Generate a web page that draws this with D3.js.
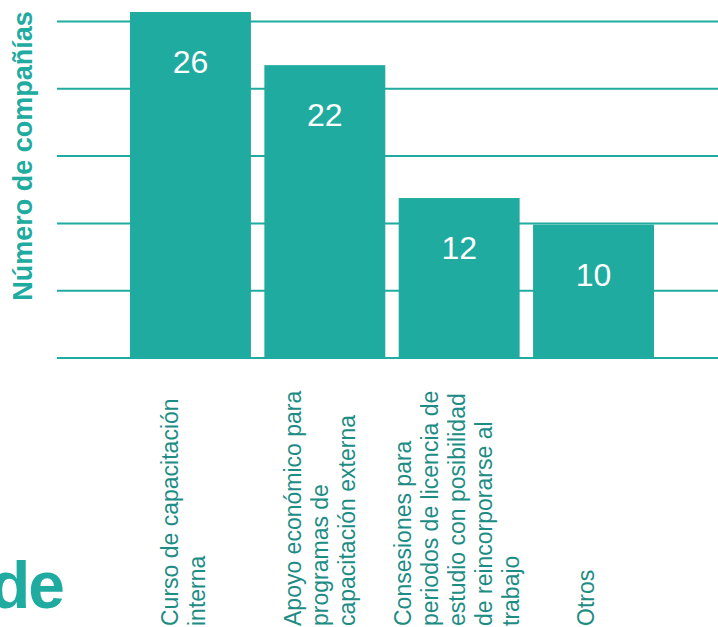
<!DOCTYPE html>
<html>
<head>
<meta charset="utf-8">
<script src="https://cdn.jsdelivr.net/npm/d3@7"></script>
<style>
  body { margin: 0; background: #fff; }
  svg { display: block; font-family: "Liberation Sans", Arial, sans-serif; }
</style>
</head>
<body>
<div id="chart"></div>
<script>
// data
const categories = ["curso", "apoyo", "consesiones", "otros"];
const values = [26, 22, 12, 10];
const categoryLines = [
    ["Curso de capacitación", "interna"],
    ["Apoyo económico para", "programas de", "capacitación externa"],
    ["Consesiones para", "periodos de licencia de", "estudio con posibilidad", "de reincorporarse al", "trabajo"],
    ["Otros"]
];
const gridTicks = [0, 5, 10, 15, 20, 25];
const yTitle = "Número de compañías";

const width = 718, height = 627;
const teal = "#20aba0", labelTeal = "#1d8c85";

const svg = d3.select("#chart")
    .append("svg")
    .attr("width", width)
    .attr("height", height);

const x = d3.scaleBand()
    .domain(categories)
    .range([123.3, 660.7])
    .paddingInner(0.1)
    .paddingOuter(0.05);

// bars and gridlines don't quite share the same scale in the original
const y = d3.scaleLinear().domain([0, 26]).range([357.5, 12]);
const yGrid = d3.scaleLinear().domain([0, 25]).range([357.5, 21]);

// gridlines
svg.append("g")
    .attr("transform", "translate(57,0)")
    .call(d3.axisLeft(yGrid).tickValues(gridTicks).tickSize(-(width - 57)).tickFormat(""))
    .call(g => g.select(".domain").remove())
    .call(g => g.selectAll(".tick line").attr("stroke", teal).attr("stroke-width", 2));

// bars
svg.append("g")
    .selectAll("rect")
    .data(values)
    .join("rect")
    .attr("x", (d, i) => x(categories[i]))
    .attr("y", d => y(d))
    .attr("width", x.bandwidth())
    .attr("height", d => y(0) - y(d))
    .attr("fill", teal);

// value labels
svg.append("g")
    .selectAll("text")
    .data(values)
    .join("text")
    .attr("x", (d, i) => x(categories[i]) + x.bandwidth() / 2)
    .attr("y", d => y(d) + 61)
    .attr("text-anchor", "middle")
    .attr("fill", "#fff")
    .attr("font-size", 32)
    .text(d => d);

// category labels, rotated, multi-line
const lineGap = 27;
categoryLines.forEach((lines, i) => {
    const cx = x(categories[i]) + x.bandwidth() / 2;
    const first = cx - (lines.length - 1) / 2 * 24;
    const t = svg.append("text")
        .attr("transform", `translate(${first},626) rotate(-90)`)
        .attr("fill", labelTeal)
        .attr("font-size", 23);
    lines.forEach((line, j) => {
        t.append("tspan")
            .attr("x", 0)
            .attr("y", j * lineGap)
            .text(line);
    });
});

// y title
svg.append("text")
    .attr("transform", "translate(32,156) rotate(-90)")
    .attr("text-anchor", "middle")
    .attr("fill", teal)
    .attr("font-weight", "bold")
    .attr("font-size", 27)
    .text(yTitle);

// cropped big word at bottom left
svg.append("text")
    .attr("x", 63)
    .attr("y", 608)
    .attr("text-anchor", "end")
    .attr("fill", teal)
    .attr("font-weight", "bold")
    .attr("font-size", 66)
    .attr("letter-spacing", -2)
    .text("de");
</script>
</body>
</html>
